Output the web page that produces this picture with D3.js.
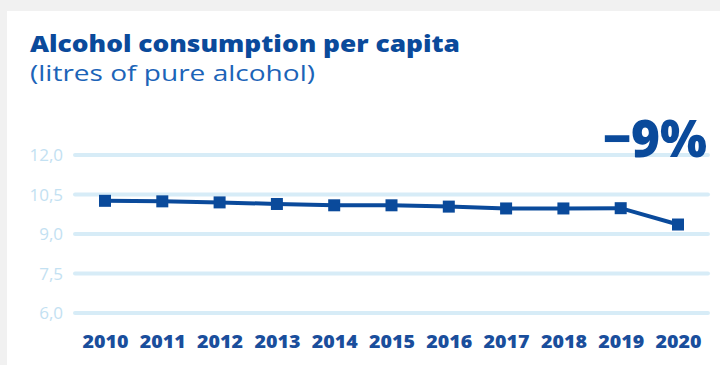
<!DOCTYPE html>
<html><head><meta charset="utf-8">
<script src="https://cdn.jsdelivr.net/npm/d3@7"></script>
<style>html,body{margin:0;padding:0;background:#f1f1f1;}svg{display:block;}</style>
</head><body>
<svg id="c" width="720" height="365"></svg>
<script>
const years = ["2010","2011","2012","2013","2014","2015","2016","2017","2018","2019","2020"];
const consumption = [10.26, 10.24, 10.20, 10.14, 10.09, 10.09, 10.04, 9.97, 9.97, 9.98, 9.36];
const yTicks = [6.0, 7.5, 9.0, 10.5, 12.0];
const title = "Alcohol consumption per capita";
const subtitle = "(litres of pure alcohol)";
const change = "\u22129%";

const svg = d3.select("#c");
svg.append("rect").attr("x",7).attr("y",11).attr("width",713).attr("height",354).attr("fill","#ffffff");

const x = d3.scalePoint().domain(years).range([105, 678]);
const y = d3.scaleLinear().domain([6, 12]).range([313, 155]);

const dark = "#0a4a9b";

svg.append("text").attr("x",30).attr("y",52).text(title)
  .attr("font-family","Open Sans").attr("font-weight",800).attr("font-size",22)
  .attr("fill",dark).attr("textLength",430).attr("lengthAdjust","spacingAndGlyphs");
svg.append("text").attr("x",30).attr("y",81).text(subtitle)
  .attr("font-family","Open Sans").attr("font-weight",400).attr("font-size",22)
  .attr("fill","#1c64b8").attr("textLength",285).attr("lengthAdjust","spacingAndGlyphs");

// grid
const yAxis = d3.axisLeft(y).tickValues(yTicks).tickSize(0).tickPadding(10)
  .tickFormat(d => d3.format(".1f")(d).replace(".", ","));
const ga = svg.append("g").attr("transform","translate(73,0)").call(yAxis);
ga.select(".domain").remove();
ga.selectAll("text").attr("font-family","Open Sans").attr("font-size",17)
  .attr("fill","#c3e1f2").attr("dy","0.35em");
svg.append("g").selectAll("line").data(yTicks).join("line")
  .attr("x1",75).attr("x2",708).attr("y1",d=>y(d)).attr("y2",d=>y(d))
  .attr("stroke","#d7ecf7").attr("stroke-width",4).attr("stroke-linecap","round");

// x axis labels
const xAxis = d3.axisBottom(x).tickSize(0).tickPadding(0);
const gx = svg.append("g").attr("transform","translate(0,342)").call(xAxis);
gx.select(".domain").remove();
gx.selectAll("text").attr("font-family","Open Sans").attr("font-weight",800)
  .attr("font-size",17.5).attr("fill","#1a4e9c").attr("dy","0.35em")
  .attr("textLength",46).attr("lengthAdjust","spacingAndGlyphs");

// line
const data = years.map((yr,i)=>({yr, v: consumption[i]}));
svg.append("path").datum(data)
  .attr("d", d3.line().x(d=>x(d.yr)).y(d=>y(d.v)))
  .attr("fill","none").attr("stroke",dark).attr("stroke-width",4);
svg.append("g").selectAll("rect").data(data).join("rect")
  .attr("x",d=>x(d.yr)-6).attr("y",d=>y(d.v)-6).attr("width",12).attr("height",12)
  .attr("fill",dark);

// -9%
svg.append("text").attr("x",707).attr("y",157).attr("text-anchor","end").text(change)
  .attr("font-family","Open Sans").attr("font-weight",800).attr("font-size",52)
  .attr("fill",dark).attr("textLength",104).attr("lengthAdjust","spacingAndGlyphs");
</script>
</body></html>
